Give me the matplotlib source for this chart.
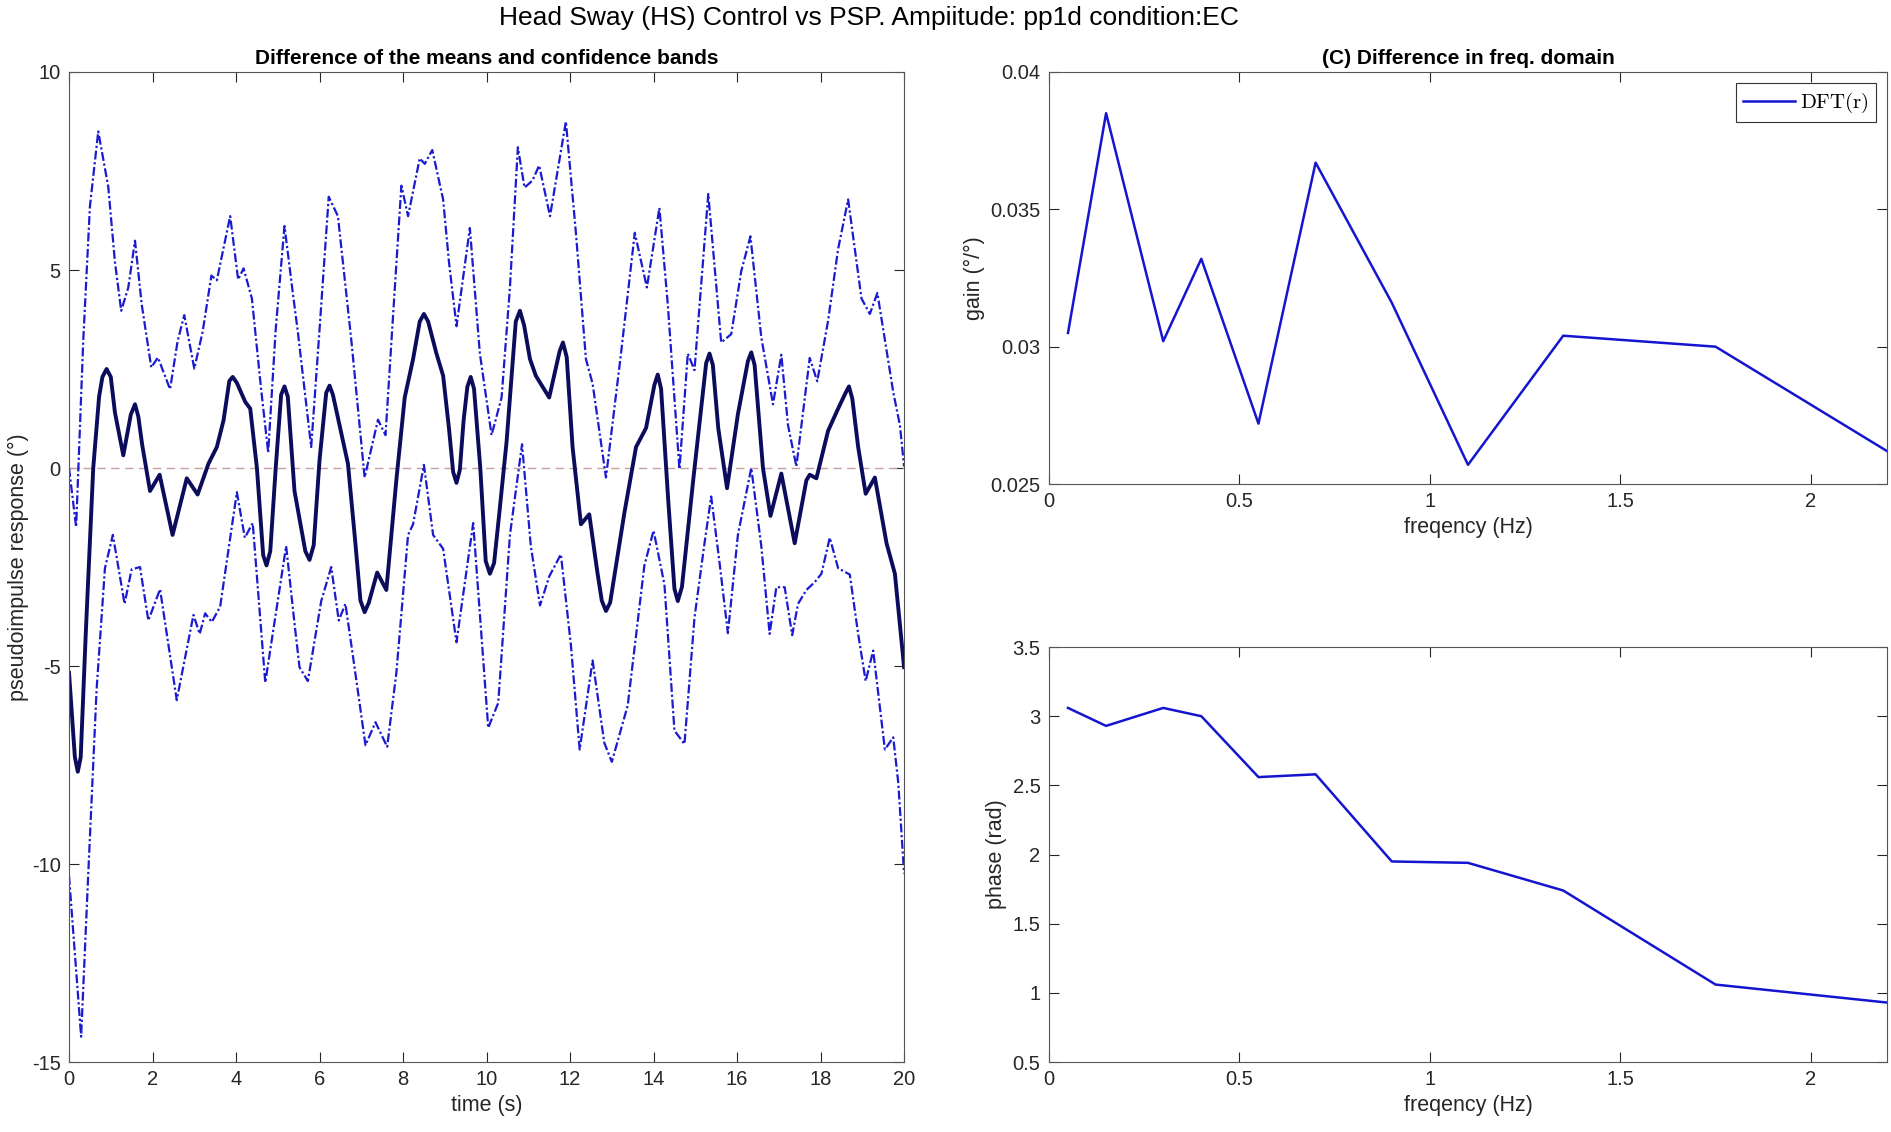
import matplotlib
matplotlib.use('Agg')
import matplotlib.pyplot as plt
import numpy as np

# mean difference (thick line), time in s
t_mean = [0.0, 0.14, 0.21, 0.28, 0.4, 0.58, 0.72, 0.8, 0.9, 1.0, 1.1, 1.3, 1.48, 1.58, 1.66, 1.75,
          1.94, 2.17, 2.48, 2.82, 3.08, 3.34, 3.54, 3.7, 3.84, 3.92, 4.02, 4.22, 4.34, 4.5, 4.65,
          4.73, 4.82, 4.95, 5.08, 5.16, 5.24, 5.4, 5.66, 5.76, 5.86, 6.0, 6.16, 6.24, 6.32, 6.48,
          6.68, 6.85, 6.98, 7.08, 7.18, 7.38, 7.6, 7.84, 8.04, 8.24, 8.4, 8.5, 8.6, 8.8, 8.96,
          9.1, 9.2, 9.28, 9.36, 9.45, 9.54, 9.62, 9.7, 9.85, 9.98, 10.08, 10.18, 10.3, 10.48,
          10.7, 10.8, 10.9, 11.04, 11.18, 11.5, 11.75, 11.83, 11.92, 12.06, 12.26, 12.46, 12.65,
          12.76, 12.86, 12.96, 13.3, 13.58, 13.82, 14.02, 14.1, 14.18, 14.35, 14.5, 14.58, 14.68,
          14.95, 15.26, 15.34, 15.42, 15.55, 15.76, 16.02, 16.26, 16.34, 16.42, 16.62, 16.8,
          17.06, 17.38, 17.66, 17.74, 17.9, 18.18, 18.42, 18.6, 18.68, 18.76, 18.9, 19.08, 19.3,
          19.58, 19.78, 20.0]
v_mean = [-5.17, -7.3, -7.67, -7.3, -4.2, 0.0, 1.8, 2.3, 2.5, 2.3, 1.4, 0.32, 1.35, 1.61, 1.3, 0.6,
          -0.58, -0.17, -1.69, -0.26, -0.67, 0.11, 0.53, 1.2, 2.2, 2.3, 2.15, 1.67, 1.5, 0.0, -2.2,
          -2.46, -2.1, 0.0, 1.85, 2.06, 1.8, -0.58, -2.1, -2.32, -1.95, 0.2, 1.9, 2.08, 1.85, 1.08,
          0.11, -1.8, -3.35, -3.64, -3.4, -2.64, -3.08, -0.3, 1.78, 2.75, 3.7, 3.89, 3.7, 2.89, 2.33,
          1.0, -0.1, -0.375, -0.05, 1.2, 2.05, 2.3, 2.0, 0.0, -2.35, -2.67, -2.4, -1.2, 0.67,
          3.7, 3.97, 3.6, 2.75, 2.33, 1.78, 2.95, 3.17, 2.8, 0.53, -1.42, -1.17, -2.6,
          -3.35, -3.61, -3.4, -1.14, 0.53, 1.01, 2.1, 2.36, 2.0, -0.8, -3.05, -3.36, -3.0,
          -0.3, 2.65, 2.89, 2.6, 1.0, -0.51, 1.36, 2.7, 2.92, 2.6, 0.0, -1.21,
          -0.14, -1.9, -0.31, -0.17, -0.26, 0.94, 1.5, 1.9, 2.06, 1.75, 0.53, -0.65, -0.24,
          -1.9, -2.67, -5.03]

# upper confidence band
t_up = [0.0, 0.17, 0.34, 0.5, 0.7, 0.94, 1.1, 1.25, 1.42, 1.58, 1.74, 1.97, 2.13, 2.42, 2.6, 2.76,
        3.0, 3.2, 3.41, 3.54, 3.86, 4.05, 4.18, 4.38, 4.6, 4.77, 4.95, 5.16, 5.36, 5.48, 5.8, 6.0,
        6.22, 6.44, 6.76, 7.08, 7.4, 7.58, 7.8, 7.96, 8.12, 8.4, 8.52, 8.7, 8.96, 9.1, 9.28, 9.6,
        9.84, 10.12, 10.36, 10.56, 10.75, 10.91, 11.1, 11.26, 11.52, 11.9, 12.14, 12.38, 12.54,
        12.86, 13.22, 13.55, 13.84, 14.14, 14.34, 14.62, 14.82, 14.98, 15.31, 15.62, 15.86, 16.1,
        16.32, 16.58, 16.86, 17.06, 17.22, 17.42, 17.74, 17.92, 18.18, 18.42, 18.66, 18.98, 19.18,
        19.36, 19.74, 19.9, 20.0]
v_up = [0.0, -1.49, 3.2, 6.6, 8.5, 7.1, 5.2, 3.97, 4.56, 5.74, 4.14, 2.54, 2.79, 1.99, 3.2, 3.86,
        2.51, 3.44, 4.86, 4.74, 6.36, 4.76, 5.04, 4.28, 2.0, 0.39, 3.5, 6.11, 4.42, 3.44, 0.53, 3.5,
        6.85, 6.36, 3.24, -0.24, 1.22, 0.83, 4.5, 7.13, 6.36, 7.82, 7.68, 8.03, 6.78, 5.2, 3.58, 6.06,
        2.89, 0.83, 1.78, 4.56, 8.1, 7.08, 7.26, 7.64, 6.36, 8.75, 5.94, 2.75, 2.13,
        -0.24, 2.89, 5.94, 4.56, 6.57, 4.14, -0.03, 2.89, 2.47, 6.92, 3.17, 3.38, 4.97,
        5.85, 3.3, 1.61, 2.86, 1.08, 0.04, 2.78, 2.19, 3.72, 5.53, 6.78, 4.28, 3.89,
        4.42, 1.92, 1.08, 0.04]

# lower confidence band
t_lo = [0.0, 0.29, 0.45, 0.66, 0.86, 1.05, 1.33, 1.5, 1.7, 1.9, 2.18, 2.58, 2.98, 3.13, 3.26, 3.42,
        3.62, 4.02, 4.21, 4.4, 4.7, 5.2, 5.4, 5.52, 5.72, 6.04, 6.28, 6.46, 6.62, 6.8, 7.1, 7.34,
        7.62, 7.84, 8.12, 8.24, 8.5, 8.72, 8.96, 9.28, 9.68, 10.04, 10.28, 10.56, 10.85, 11.06,
        11.28, 11.5, 11.78, 12.02, 12.23, 12.54, 12.82, 13.0, 13.38, 13.78, 14.0, 14.26, 14.5,
        14.74, 14.98, 15.22, 15.38, 15.58, 15.78, 16.02, 16.34, 16.58, 16.78, 16.94, 17.14, 17.32,
        17.46, 17.66, 17.86, 18.02, 18.22, 18.42, 18.7, 18.9, 19.08, 19.26, 19.54, 19.74, 19.86, 20.0]
v_lo = [-10.3, -14.36, -10.5, -5.6, -2.53, -1.69, -3.43, -2.56, -2.5, -3.85, -3.06, -5.86, -3.71, -4.19, -3.67, -3.89,
        -3.5, -0.61, -1.76, -1.39, -5.42, -1.97, -3.92, -5.03, -5.38, -3.36, -2.5, -3.85, -3.43, -4.75, -7.0, -6.42,
        -7.04, -5.17, -1.69, -1.42, 0.08, -1.69, -2.04, -4.4, -1.39, -6.56, -5.93, -1.69, 0.6, -1.97,
        -3.47, -2.74, -2.18, -4.47, -7.11, -4.86, -6.94, -7.42, -6.0, -2.46, -1.58, -2.94, -6.63,
        -6.97, -3.78, -1.9, -0.72, -2.39, -4.17, -1.69, 0.0, -1.97, -4.19, -3.01, -3.01, -4.22,
        -3.43, -3.08, -2.88, -2.67, -1.76, -2.53, -2.69, -4.19, -5.38, -4.61, -7.11, -6.8, -7.94, -10.24]

# frequency domain
freq = [0.05, 0.15, 0.3, 0.4, 0.55, 0.7, 0.9, 1.1, 1.35, 1.75, 2.2]
gain = [0.0305, 0.0385, 0.0302, 0.0332, 0.0272, 0.0367, 0.0316, 0.0257, 0.0304, 0.0300, 0.0262]
phase = [3.06, 2.93, 3.06, 3.00, 2.56, 2.58, 1.95, 1.94, 1.74, 1.06, 0.93]

plt.rcParams['font.family'] = ['Liberation Sans', 'DejaVu Sans']
plt.rcParams['mathtext.fontset'] = 'cm'
plt.rcParams['axes.unicode_minus'] = False
axcol = '#262626'
band = dict(color='#1a1ad0', lw=1.6, linestyle=(0, (4, 1.2, 1, 1.2)), dash_joinstyle='round')

def style(ax):
    ax.tick_params(direction='in', top=True, right=True, labelsize=14.5, colors=axcol,
                   length=7, width=0.8, pad=6)
    for s in ax.spines.values():
        s.set_color('#555555')
        s.set_linewidth(0.8)

fig = plt.figure(figsize=(18.91, 11.32), dpi=100)
fig.suptitle('Head Sway (HS) Control vs PSP. Ampiitude: pp1d condition:EC', fontsize=19,
             x=0.4596, y=0.995)

ax1 = fig.add_axes([0.0365, 0.0618, 0.4416, 0.8746])
ax1.plot([0, 20], [0, 0], linestyle=(0, (6, 4)), color='#c9a0a0', lw=1.0)
ax1.plot(t_up, v_up, **band)
ax1.plot(t_lo, v_lo, **band)
ax1.plot(t_mean, v_mean, color='#0c0c5c', lw=2.8, solid_joinstyle='round')
ax1.set_xlim(0, 20)
ax1.set_ylim(-15, 10)
ax1.set_xticks(np.arange(0, 21, 2))
ax1.set_yticks([-15, -10, -5, 0, 5, 10])
ax1.set_xlabel('time (s)', fontsize=15.5, color=axcol)
ax1.set_ylabel('pseudoimpulse response (°)', fontsize=15.5, color=axcol, labelpad=2)
ax1.set_title('Difference of the means and confidence bands', fontsize=15, fontweight='bold')
style(ax1)

ax2 = fig.add_axes([0.5547, 0.5724, 0.4432, 0.3640])
ax2.plot(freq, gain, color='#1515d0', lw=1.8, solid_joinstyle='round', label=r'$\mathrm{DFT(r)}$')
ax2.set_xlim(0, 2.2)
ax2.set_ylim(0.025, 0.04)
ax2.set_xticks([0, 0.5, 1, 1.5, 2])
ax2.set_xticklabels(['0', '0.5', '1', '1.5', '2'])
ax2.set_yticks([0.025, 0.03, 0.035, 0.04])
ax2.set_yticklabels(['0.025', '0.03', '0.035', '0.04'])
ax2.set_xlabel('freqency (Hz)', fontsize=15.5, color=axcol)
ax2.set_ylabel('gain (°/°)', fontsize=15.5, color=axcol)
ax2.set_title('(C) Difference in freq. domain', fontsize=15, fontweight='bold')
leg = ax2.legend(loc='upper right', fontsize=15, fancybox=False, framealpha=1,
                 handlelength=2.5, handletextpad=0.2, borderpad=0.35, borderaxespad=0.55)
leg.get_frame().set_edgecolor('#333333')
leg.get_frame().set_linewidth(0.8)
style(ax2)

ax3 = fig.add_axes([0.5547, 0.0618, 0.4432, 0.3666])
ax3.plot(freq, phase, color='#1515d0', lw=1.8, solid_joinstyle='round')
ax3.set_xlim(0, 2.2)
ax3.set_ylim(0.5, 3.5)
ax3.set_xticks([0, 0.5, 1, 1.5, 2])
ax3.set_xticklabels(['0', '0.5', '1', '1.5', '2'])
ax3.set_yticks([0.5, 1, 1.5, 2, 2.5, 3, 3.5])
ax3.set_yticklabels(['0.5', '1', '1.5', '2', '2.5', '3', '3.5'])
ax3.set_xlabel('freqency (Hz)', fontsize=15.5, color=axcol)
ax3.set_ylabel('phase (rad)', fontsize=15.5, color=axcol)
style(ax3)

fig.savefig('out.png', dpi=100)
